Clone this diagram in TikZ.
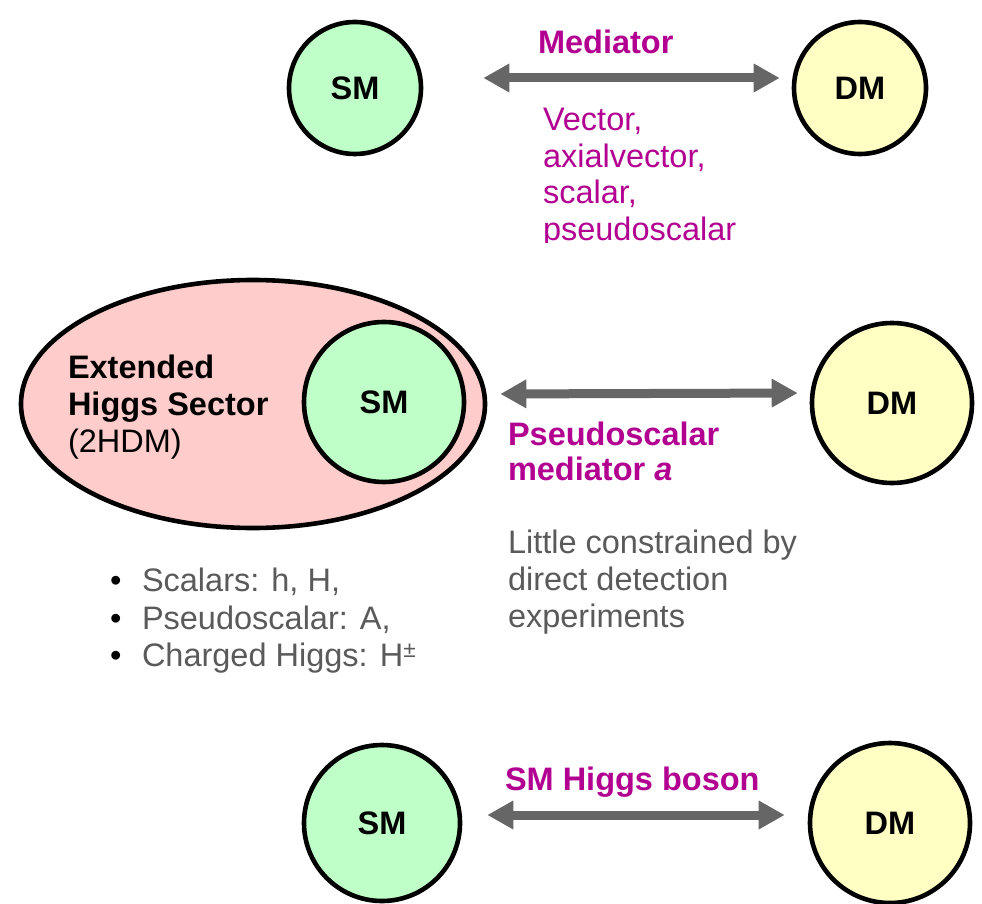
\documentclass[tikz,border=0pt]{standalone}
\usepackage{fontspec}
\setmainfont{Liberation Sans}
\usetikzlibrary{arrows.meta,shapes.geometric}
\definecolor{smgreen}{RGB}{191,255,200}
\definecolor{dmyellow}{RGB}{255,255,196}
\definecolor{hspink}{RGB}{255,204,204}
\definecolor{mag}{RGB}{178,0,145}
\definecolor{txtgray}{RGB}{90,90,90}
\definecolor{arrgray}{RGB}{102,102,102}
\tikzset{
  ball/.style={circle,draw=black,line width=4.6pt,inner sep=0pt,font=\fontsize{32.5}{36}\selectfont\bfseries},
  smball/.style={ball,fill=smgreen},
  dmball/.style={ball,fill=dmyellow},
  lbl/.style={inner sep=0pt,outer sep=0pt,anchor=north west,align=left,font=\fontsize{32.5}{36}\selectfont},
  maglbl/.style={lbl,text=mag},
  graylbl/.style={lbl,text=txtgray},
  biarrow/.style={draw=arrgray,line width=9pt,{Triangle[length=26pt,width=27pt]}-{Triangle[length=26pt,width=27pt]}}
}
\begin{document}
\begin{tikzpicture}[x=1pt,y=-1pt]
\useasboundingbox (0,0) rectangle (982,904);
% top row
\node[smball,minimum size=132pt] (sm1) at (355,88) {SM};
\node[dmball,minimum size=132pt] (dm1) at (860,88) {DM};
\draw[biarrow,shorten <=60pt,shorten >=12pt] ([yshift=10pt]sm1.east) -- ([yshift=10pt]dm1.west);
\node[maglbl,font=\fontsize{32.5}{36}\selectfont\bfseries] (medl) at (538,30) {Mediator};
\begin{scope}
\clip (0,0) rectangle (982,242);
\node[maglbl,font=\fontsize{32.5}{36.7}\selectfont] (medtypes) at (543,108) {Vector,\\axialvector,\\scalar,\\pseudoscalar};
\end{scope}
% middle row
\node[ellipse,draw=black,line width=4.6pt,fill=hspink,minimum width=464pt,minimum height=248pt,inner sep=0pt] (hs) at (253,404) {};
\node[smball,minimum size=160pt] (sm2) at (384,402) {SM};
\node[lbl,font=\fontsize{32.5}{37}\selectfont] (hsl) at (68,355) {\textbf{Extended}\\\textbf{Higgs Sector}\\(2HDM)};
\node[dmball,minimum size=160pt] (dm2) at (892,403) {DM};
\draw[biarrow,shorten <=13pt,shorten >=12pt] ([yshift=10pt]hs.east) -- ([yshift=10pt]dm2.west);
\node[maglbl,font=\fontsize{32.5}{35}\selectfont\bfseries] (psl) at (508,422) {Pseudoscalar\\mediator \textit{a}};
\node[graylbl,font=\fontsize{32.5}{37}\selectfont] (ddl) at (508,530) {Little constrained by\\direct detection\\experiments};
\node[graylbl,font=\fontsize{32.5}{37.5}\selectfont] (bul) at (110,568) {\makebox[32pt][l]{\color{black}•}Scalars: h, H,\\\makebox[32pt][l]{\color{black}•}Pseudoscalar: A,\\\makebox[32pt][l]{\color{black}•}Charged Higgs: H\textsuperscript{±}};
% bottom row
\node[smball,minimum size=156pt] (sm3) at (382,823) {SM};
\node[dmball,minimum size=160pt] (dm3) at (890,823) {DM};
\draw[biarrow,shorten <=25pt,shorten >=23pt] ([yshift=8pt]sm3.east) -- ([yshift=8pt]dm3.west);
\node[maglbl,font=\fontsize{32.5}{36}\selectfont\bfseries] (hbl) at (505,767) {SM Higgs boson};
\end{tikzpicture}
\end{document}
